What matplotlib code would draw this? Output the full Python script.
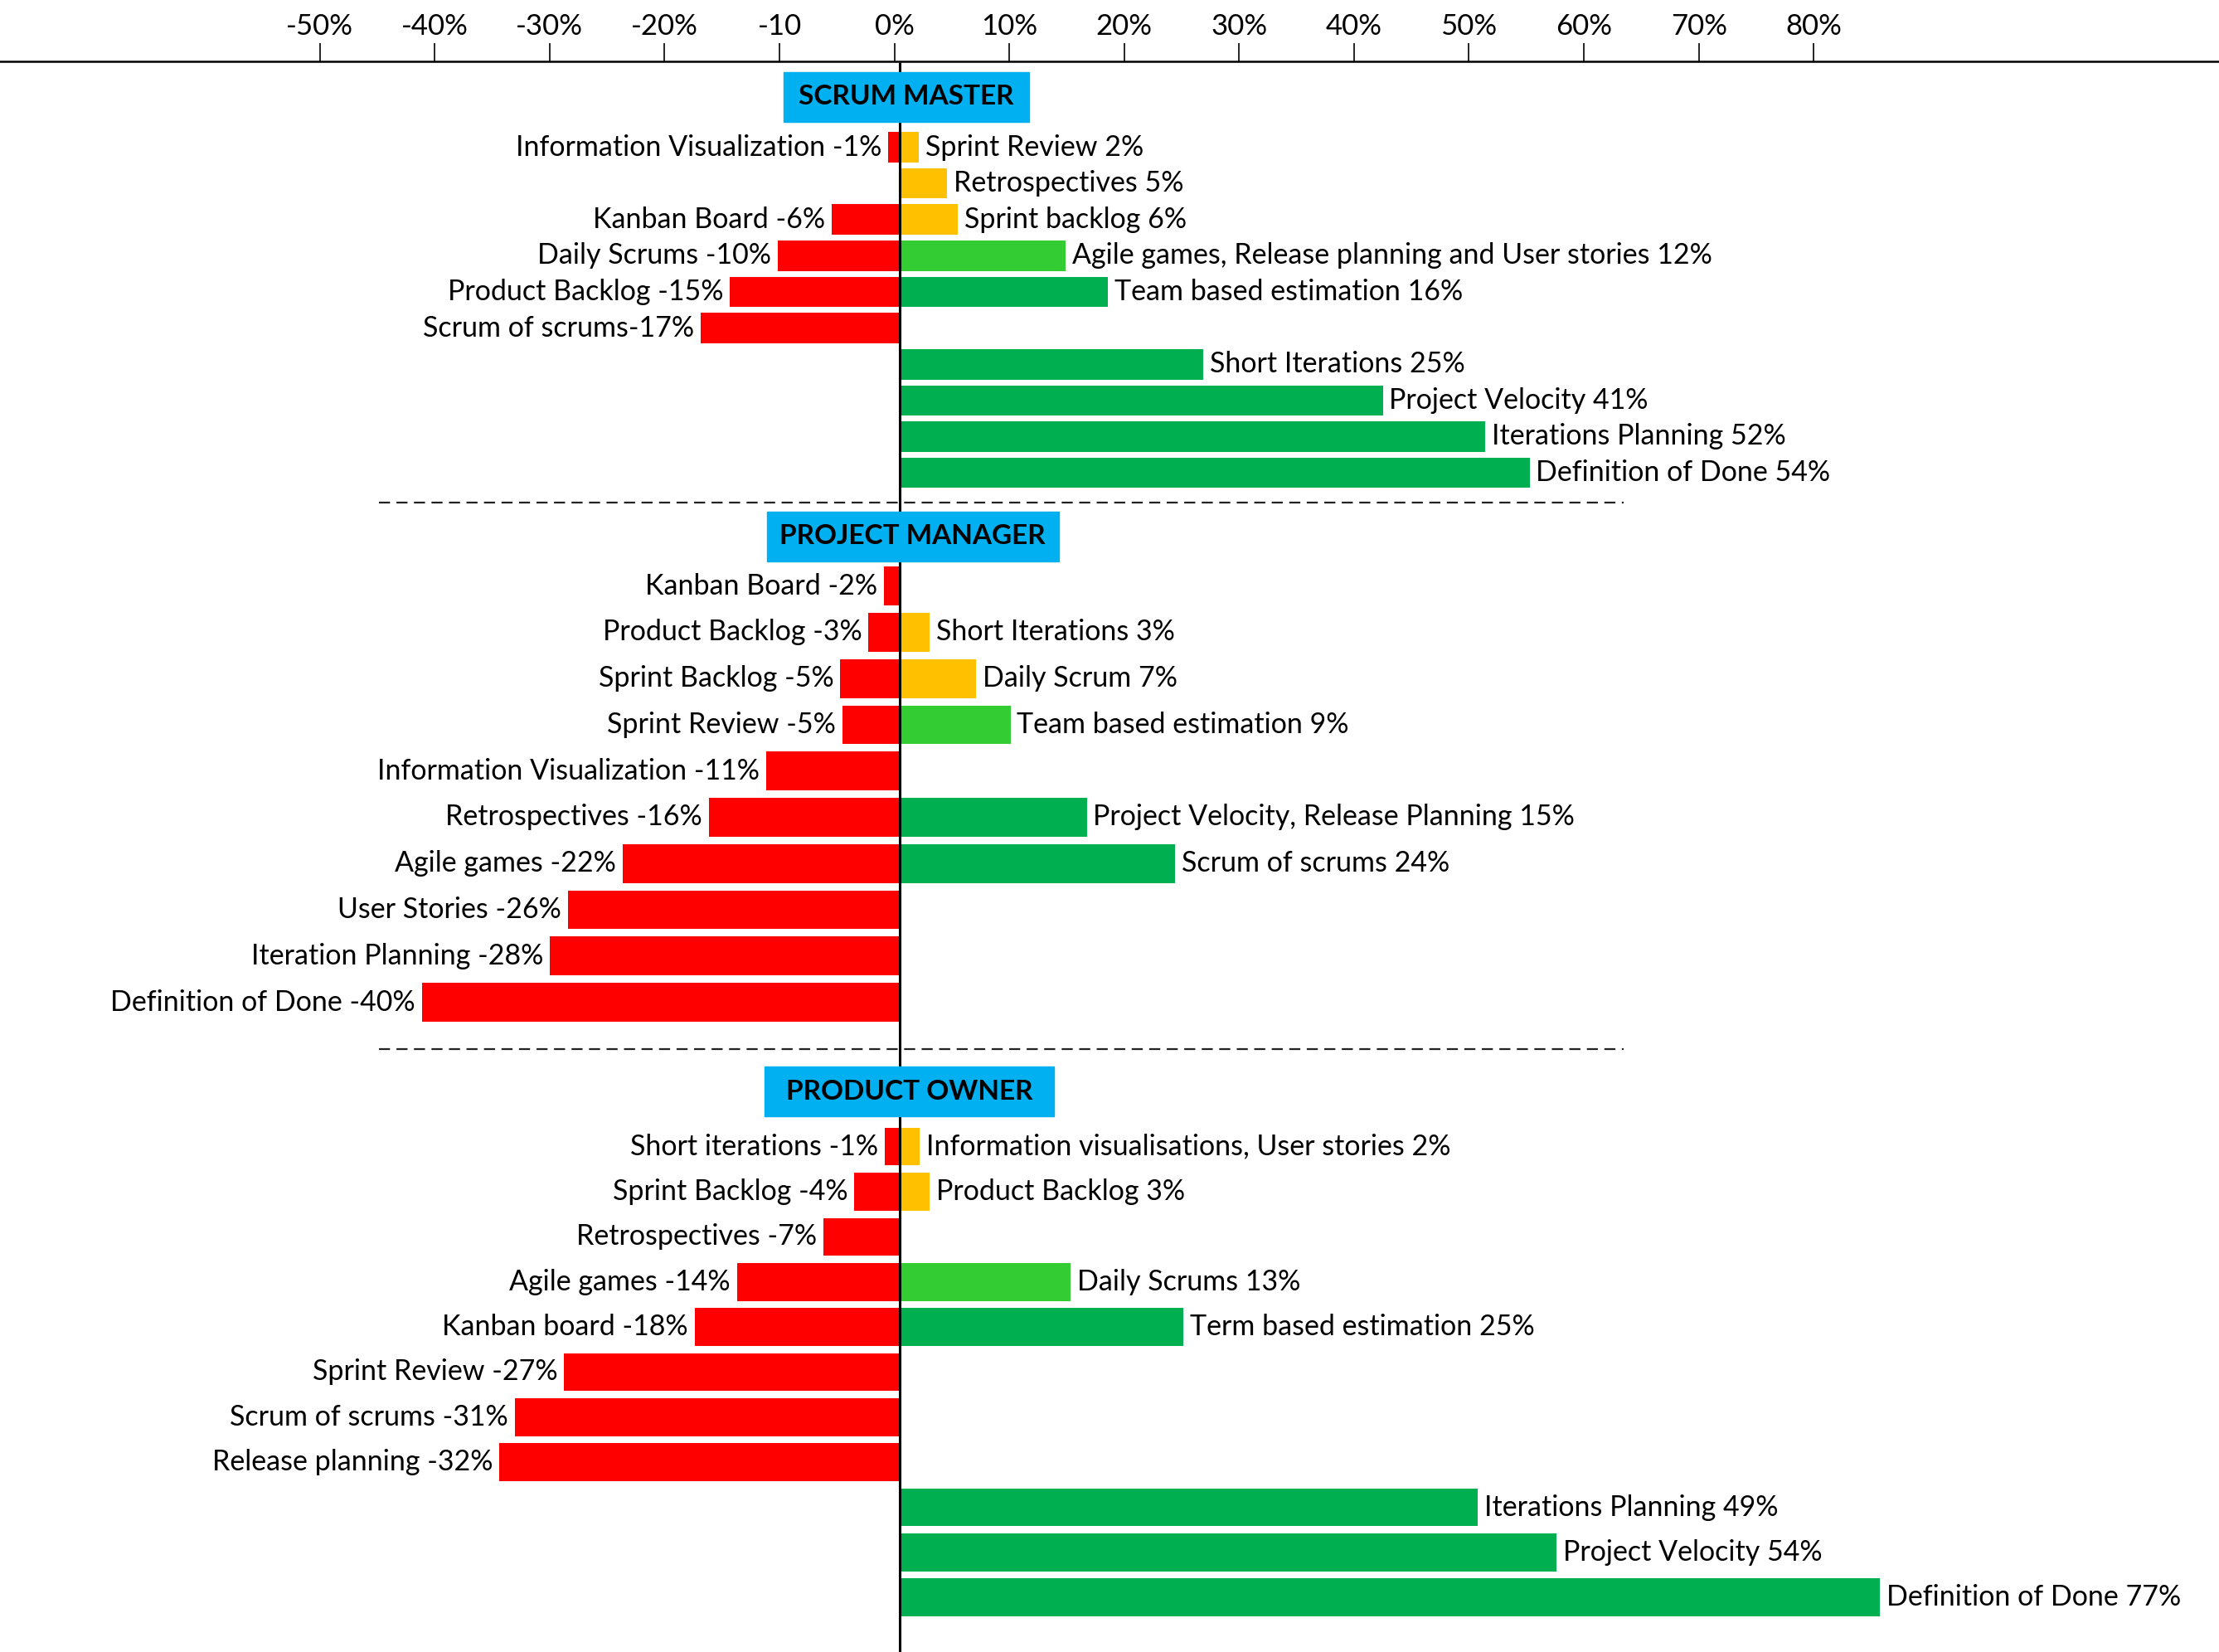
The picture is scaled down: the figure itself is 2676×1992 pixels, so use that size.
import matplotlib
matplotlib.use("Agg")
import matplotlib.pyplot as plt
from matplotlib.patches import Rectangle

plt.rcParams['font.family'] = ['Lato', 'DejaVu Sans']

# ruler on top
ruler_ticks = [-50, -40, -30, -20, -10, 0, 10, 20, 30, 40, 50, 60, 70, 80]
ruler_labels = ["-50%", "-40%", "-30%", "-20%", "-10", "0%", "10%", "20%",
                "30%", "40%", "50%", "60%", "70%", "80%"]

# scrum master: rows of (left label, left bar) / (right label, right bar)
sm_left = ["Information Visualization -1%", "", "Kanban Board -6%", "Daily Scrums -10%",
           "Product Backlog -15%", "Scrum of scrums-17%", "", "", "", ""]
sm_left_val = [-1.0, 0, -5.8, -10.4, -14.5, -17.0, 0, 0, 0, 0]
sm_right = ["Sprint Review 2%", "Retrospectives 5%", "Sprint backlog 6%",
            "Agile games, Release planning and User stories 12%", "Team based estimation 16%", "",
            "Short Iterations 25%", "Project Velocity 41%", "Iterations Planning 52%",
            "Definition of Done 54%"]
sm_right_val = [1.6, 4.0, 4.9, 14.1, 17.7, 0, 25.8, 41.1, 49.8, 53.6]

# project manager
pm_left = ["Kanban Board -2%", "Product Backlog -3%", "Sprint Backlog -5%", "Sprint Review -5%",
           "Information Visualization -11%", "Retrospectives -16%", "Agile games -22%",
           "User Stories -26%", "Iteration Planning -28%", "Definition of Done -40%"]
pm_left_val = [-1.4, -2.7, -5.1, -4.9, -11.4, -16.3, -23.6, -28.3, -29.8, -40.7]
pm_right = ["", "Short Iterations 3%", "Daily Scrum 7%", "Team based estimation 9%", "",
            "Project Velocity, Release Planning 15%", "Scrum of scrums 24%", "", "", ""]
pm_right_val = [0, 2.5, 6.5, 9.4, 0, 15.9, 23.4, 0, 0, 0]

# product owner
po_left = ["Short iterations -1%", "Sprint Backlog -4%", "Retrospectives -7%", "Agile games -14%",
           "Kanban board -18%", "Sprint Review -27%", "Scrum of scrums -31%",
           "Release planning -32%", "", "", ""]
po_left_val = [-1.3, -3.9, -6.5, -13.9, -17.5, -28.6, -32.8, -34.1, 0, 0, 0]
po_right = ["Information visualisations, User stories 2%", "Product Backlog 3%", "",
            "Daily Scrums 13%", "Term based estimation 25%", "", "", "",
            "Iterations Planning 49%", "Project Velocity 54%", "Definition of Done 77%"]
po_right_val = [1.7, 2.5, 0, 14.5, 24.1, 0, 0, 0, 49.2, 55.9, 83.4]

group_titles = ["SCRUM MASTER", "PROJECT MANAGER", "PRODUCT OWNER"]

RED, ORANGE, LGREEN, GREEN, BLUE = "#FF0000", "#FFC000", "#33CC33", "#00B050", "#00B0F0"
FS = 24.5


def bar_color(v):
    if v < 0:
        return RED
    if v < 8:
        return ORANGE
    if v < 15:
        return LGREEN
    return GREEN


fig = plt.figure(figsize=(26.76, 19.92), dpi=100)
ax = fig.add_axes([0, 0, 1, 1])
# layout units: 1167 tall, x scale 8.3 units per percent, zero at 636
ax.set_xlim(-636 / 8.3, (1568 - 636) / 8.3)
ax.set_ylim(1167, 0)
ax.axis('off')

# group layout: first row y, last row y, box y, box x range
layout = [(104, 334, 68.5, 554, 727),
          (414, 708, 379, 542, 748),
          (810, 1128.5, 771, 540, 745)]
groups = [(sm_left, sm_left_val, sm_right, sm_right_val),
          (pm_left, pm_left_val, pm_right, pm_right_val),
          (po_left, po_left_val, po_right, po_right_val)]

for title, (lab_l, val_l, lab_r, val_r), (y0, y1, by, bx0, bx1) in zip(group_titles, groups, layout):
    n = len(lab_l)
    step = (y1 - y0) / (n - 1)
    ys = [y0 + i * step for i in range(n)]
    h = step * 0.84
    for labs, vals, side in [(lab_l, val_l, -1), (lab_r, val_r, 1)]:
        for y, lab, v in zip(ys, labs, vals):
            if not lab:
                continue
            ax.barh(y, v, height=h, color=bar_color(v), zorder=2)
            ax.text(v + side * 0.55, y, lab, fontsize=FS,
                    ha='right' if side < 0 else 'left', va='center', zorder=3)
    # title box
    x0 = (bx0 - 636) / 8.3
    x1 = (bx1 - 636) / 8.3
    ax.add_patch(Rectangle((x0, by - 17.5), x1 - x0, 35, color=BLUE, zorder=4))
    ax.text((x0 + x1) / 2, by, title, fontsize=FS - 0.5, fontweight='bold',
            ha='center', va='center', zorder=5)

# zero line
ax.vlines(0, 44, 1167, color='black', lw=2.2, zorder=3)

# dashed separators
for y in [355, 741]:
    ax.hlines(y, (268 - 636) / 8.3, (1147 - 636) / 8.3, color='#222222', lw=1.6,
              linestyles=(0, (6, 3.5)), zorder=1)

# ruler axis
ruler = fig.add_axes([0, 1 - 44 / 1167, 1, 0.0005])
ruler.set_xlim((0 - 632) / 8.12, (1568 - 632) / 8.12)
ruler.xaxis.tick_top()
ruler.set_xticks(ruler_ticks, ruler_labels)
ruler.tick_params(axis='x', direction='out', length=16, width=1.2, labelsize=FS + 0.5, pad=3)
ruler.set_yticks([])
for s in ['bottom', 'left', 'right']:
    ruler.spines[s].set_visible(False)
ruler.spines['top'].set_linewidth(1.8)
ruler.patch.set_alpha(0)

fig.savefig("out.png", dpi=100)
